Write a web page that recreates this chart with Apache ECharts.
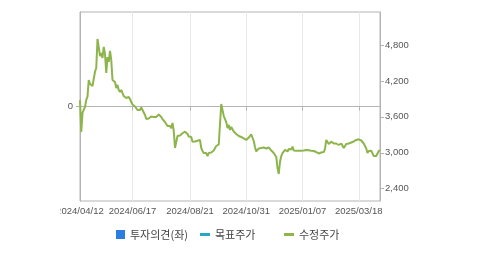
<!DOCTYPE html>
<html><head><meta charset="utf-8">
<script src="https://cdn.jsdelivr.net/npm/echarts@6/dist/echarts.min.js"></script>
<style>html,body{margin:0;padding:0;background:#fff}#c{width:479px;height:255px}</style>
</head><body><div id="c"></div>
<script>
// Adjusted price (수정주가), one value per trading day from 2024/04/12
const priceValues = [
3880, 3350, 3665, 3698, 3765, 3882, 3937, 4216, 4149, 4165,
4115, 4132, 4354, 4416, 4900, 4884, 4616, 4666, 4583, 4767,
4650, 4332, 4600, 4516, 4700, 4550, 4216, 4199, 4182, 4082,
4132, 4049, 4015, 4049, 3998, 3948, 3965, 3915, 3932, 3932,
3898, 3848, 3806, 3798, 3773, 3740, 3715, 3690, 3715, 3757,
3715, 3690, 3631, 3564, 3564, 3573, 3564, 3606, 3631, 3598,
3590, 3598, 3614, 3640, 3648, 3598, 3564, 3531, 3514, 3489,
3447, 3456, 3447, 3409, 3498, 3364, 3080, 3180, 3280, 3264,
3289, 3306, 3326, 3339, 3352, 3330, 3314, 3272, 3297, 3264,
3185, 3197, 3188, 3197, 3202, 3205, 3214, 3080, 3030, 2996,
2963, 2996, 2946, 2996, 3013, 3005, 3022, 3038, 3055, 3113,
3130, 3139, 3147, 3815, 3715, 3614, 3564, 3514, 3414, 3464,
3381, 3431, 3406, 3356, 3381, 3314, 3289, 3280, 3272, 3264,
3255, 3241, 3230, 3214, 3239, 3255, 3269, 3306, 3322, 3197,
3097, 3022, 3055, 3072, 3089, 3080, 3097, 3089, 3080, 3072,
3080, 3089, 3064, 3038, 3013, 2996, 2963, 2930, 2746, 2646,
2846, 2946, 2996, 3022, 3047, 3038, 3022, 3064, 3072, 3055,
3102, 3038, 3035, 3035, 3038, 3035, 3038, 3035, 3038, 3038,
3042, 3047, 3047, 3042, 3038, 3035, 3030, 3030, 3022, 3013,
3013, 2989, 3013, 3005, 2996, 3013, 3064, 3214, 3247, 3147,
3122, 3186, 3172, 3155, 3147, 3155, 3147, 3130, 3147, 3155,
3130, 3080, 3113, 3147, 3158, 3155, 3164, 3172, 3186, 3189,
3205, 3214, 3222, 3225, 3214, 3205, 3186, 3155, 3130, 3072,
2996, 3030, 3035, 3035, 3005, 2946, 2946, 2946, 2946, 3030,
3047
];
const opinionValues = [];      // 투자의견(좌) - no bars shown
const targetValues = [];       // 목표주가 - no line shown
const xTickIndex = [0, 42, 88, 133, 178, 223];
const xTickLabels = ['2024/04/12', '2024/06/17', '2024/08/21', '2024/10/31', '2025/01/07', '2025/03/18'];
const rightTicks = [2400, 3000, 3600, 4200, 4800];
const leftTicks = [0];
const seriesNames = ['투자의견(좌)', '목표주가', '수정주가'];

const categories = priceValues.map((_, i) => String(i));
const tickMap = {};
xTickIndex.forEach((idx, k) => { tickMap[idx] = xTickLabels[k]; });
const isTick = (i) => tickMap[i] !== undefined;

const axisGray = '#b4b4b4';
const gridGray = '#e8e8e8';
const textGray = '#555';
const green = '#8db54b';
const blue = '#2d7de0';
const teal = '#27a6c6';
const legendText = {fontFamily: 'Noto Sans CJK KR', fontSize: 11, color: '#444'};

const chart = echarts.init(document.getElementById('c'), null, {renderer: 'canvas'});
chart.setOption({
  animation: false,
  grid: {left: 80, top: 12, width: 300, height: 189, show: true, borderColor: axisGray, borderWidth: 1, backgroundColor: 'transparent'},
  xAxis: {
    type: 'category', boundaryGap: false, data: categories,
    axisLine: {lineStyle: {color: axisGray}},
    axisTick: {show: true, length: 4, interval: (i) => isTick(i), lineStyle: {color: axisGray}},
    axisLabel: {interval: (i) => isTick(i), formatter: (v, i) => tickMap[i] || '', margin: 5,
      color: textGray, fontFamily: 'Liberation Sans', fontSize: 9.5, showMinLabel: true},
    splitLine: {show: true, interval: (i) => isTick(i), lineStyle: {color: gridGray}}
  },
  yAxis: [
    {type: 'value', min: -1, max: 1, interval: 1, position: 'left',
      axisLine: {show: true, lineStyle: {color: axisGray}},
      axisTick: {show: true, length: 4, customValues: leftTicks, lineStyle: {color: axisGray}},
      axisLabel: {customValues: leftTicks, formatter: (v) => (v === 0 ? '0' : ''), margin: 7,
        color: textGray, fontFamily: 'Liberation Sans', fontSize: 9.5},
      splitLine: {show: true, lineStyle: {color: ['rgba(0,0,0,0)', gridGray, 'rgba(0,0,0,0)']}}},
    {type: 'value', min: 2195, max: 5351, position: 'right',
      axisLine: {show: true, lineStyle: {color: axisGray}},
      axisTick: {show: true, length: 4, customValues: rightTicks, lineStyle: {color: axisGray}},
      axisLabel: {customValues: rightTicks, formatter: (v) => v.toLocaleString('en-US'), margin: 5,
        color: textGray, fontFamily: 'Liberation Sans', fontSize: 9.5},
      splitLine: {show: false}}
  ],
  legend: [
    {data: [seriesNames[0]], left: 116, top: 229, padding: 0, icon: 'rect', itemWidth: 9, itemHeight: 9, selectedMode: false, textStyle: legendText},
    {data: [seriesNames[1]], left: 200, top: 229, padding: 0, icon: 'rect', itemWidth: 10, itemHeight: 3, selectedMode: false, textStyle: legendText},
    {data: [seriesNames[2]], left: 284, top: 229, padding: 0, icon: 'rect', itemWidth: 10, itemHeight: 3, selectedMode: false, textStyle: legendText}
  ],
  graphic: [{type: 'rect', left: 0, top: 203, shape: {width: 60.5, height: 18}, style: {fill: '#fff'}, z: 100}],
  series: [
    {name: seriesNames[0], type: 'bar', yAxisIndex: 0, data: opinionValues, itemStyle: {color: blue}},
    {name: seriesNames[1], type: 'line', yAxisIndex: 1, data: targetValues, itemStyle: {color: teal}, lineStyle: {color: teal}},
    {name: seriesNames[2], type: 'line', yAxisIndex: 1, data: priceValues, showSymbol: false, symbol: 'none',
      lineStyle: {width: 2, color: green}, itemStyle: {color: green}}
  ]
});
</script></body></html>
